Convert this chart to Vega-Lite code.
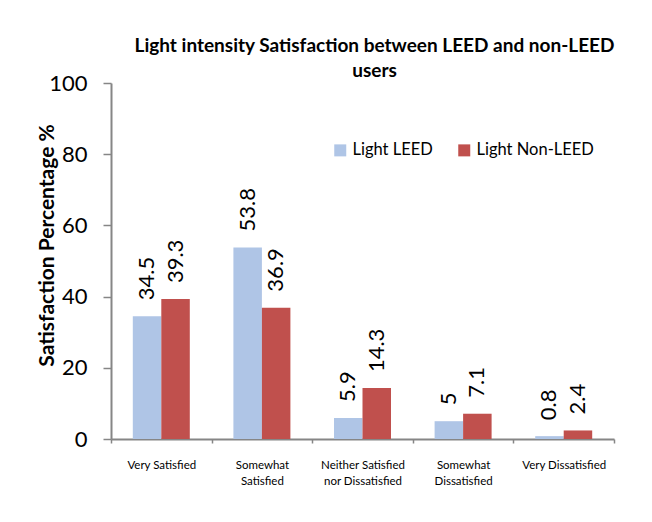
{
  "$schema": "https://vega.github.io/schema/vega-lite/v6.json",
  "width": 503,
  "height": 356,
  "autosize": {"type": "none"},
  "padding": {"left": 111, "top": 83, "right": 38, "bottom": 83},
  "background": "white",
  "title": {
    "text": ["Light intensity Satisfaction between LEED and non-LEED", "users"],
    "font": "Lato",
    "fontSize": 19,
    "fontWeight": "bold",
    "color": "#000000",
    "anchor": "middle",
    "lineHeight": 25,
    "dx": 12,
    "offset": -9
  },
  "config": {
    "view": {"stroke": null},
    "font": "Lato"
  },
  "data": {
    "values": [
      {"category": "Very Satisfied", "group": "Light LEED", "value": 34.5},
      {"category": "Very Satisfied", "group": "Light Non-LEED", "value": 39.3},
      {"category": "Somewhat Satisfied", "group": "Light LEED", "value": 53.8},
      {"category": "Somewhat Satisfied", "group": "Light Non-LEED", "value": 36.9},
      {"category": "Neither Satisfied nor Dissatisfied", "group": "Light LEED", "value": 5.9},
      {"category": "Neither Satisfied nor Dissatisfied", "group": "Light Non-LEED", "value": 14.3},
      {"category": "Somewhat Dissatisfied", "group": "Light LEED", "value": 5},
      {"category": "Somewhat Dissatisfied", "group": "Light Non-LEED", "value": 7.1},
      {"category": "Very Dissatisfied", "group": "Light LEED", "value": 0.8},
      {"category": "Very Dissatisfied", "group": "Light Non-LEED", "value": 2.4}
    ]
  },
  "encoding": {
    "x": {
      "field": "category",
      "type": "nominal",
      "sort": null,
      "scale": {"paddingInner": 0, "paddingOuter": 0},
      "axis": {
        "title": null,
        "labelAngle": 0,
        "labelFont": "Lato",
        "labelFontSize": 11.5,
        "labelColor": "#000000",
        "labelLineHeight": 16,
        "labelPadding": 16,
        "labelBaseline": "top",
        "labelExpr": "datum.label == 'Somewhat Satisfied' ? ['Somewhat', 'Satisfied'] : datum.label == 'Neither Satisfied nor Dissatisfied' ? ['Neither Satisfied', 'nor Dissatisfied'] : datum.label == 'Somewhat Dissatisfied' ? ['Somewhat', 'Dissatisfied'] : datum.label",
        "tickBand": "extent",
        "tickSize": 4,
        "tickColor": "#868686",
        "tickWidth": 1.5,
        "domainColor": "#868686",
        "domainWidth": 2
      }
    },
    "xOffset": {
      "field": "group",
      "type": "nominal",
      "scale": {"paddingInner": 0, "paddingOuter": 0.765}
    },
    "y": {
      "field": "value",
      "type": "quantitative",
      "scale": {"domain": [0, 100], "nice": false},
      "axis": {
        "title": "Satisfaction Percentage %",
        "titleFont": "Lato",
        "titleFontSize": 21,
        "titleFontWeight": "bold",
        "titleColor": "#000000",
        "titleAngle": -90,
        "titleX": -64,
        "titleY": 162,
        "titleAlign": "center",
        "titleBaseline": "middle",
        "values": [0, 20, 40, 60, 80, 100],
        "grid": false,
        "labelFont": "Lato",
        "labelFontSize": 22,
        "labelColor": "#000000",
        "labelPadding": 16,
        "tickSize": 8,
        "tickColor": "#868686",
        "tickWidth": 1.5,
        "domainColor": "#868686",
        "domainWidth": 2
      }
    }
  },
  "layer": [
    {
      "mark": {"type": "bar"},
      "encoding": {
        "color": {
          "field": "group",
          "type": "nominal",
          "scale": {"domain": ["Light LEED", "Light Non-LEED"], "range": ["#AFC5E6", "#C0504D"]},
          "legend": {
            "title": null,
            "orient": "none",
            "direction": "horizontal",
            "legendX": 221,
            "legendY": 59,
            "symbolType": "square",
            "symbolSize": 144,
            "symbolStrokeWidth": 0,
            "labelFont": "Lato",
            "labelFontSize": 16.5,
            "labelColor": "#000000",
            "labelOffset": 4,
            "columnPadding": 23
          }
        }
      }
    },
    {
      "mark": {"type": "text", "angle": 270, "align": "left", "baseline": "middle", "dx": 16, "font": "Lato", "fontSize": 22, "color": "#000000"},
      "encoding": {
        "text": {"field": "value", "type": "quantitative"}
      }
    }
  ]
}
